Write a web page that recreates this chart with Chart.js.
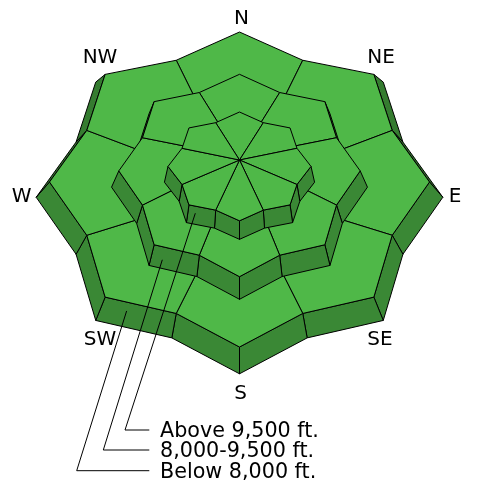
<!DOCTYPE html>
<html><head><meta charset="utf-8">
<script src="https://cdn.jsdelivr.net/npm/chart.js@4.4.1/dist/chart.umd.min.js"></script>
<style>html,body{margin:0;padding:0;background:#fff;}#wrap{width:482px;height:494px;position:relative;}</style>
</head><body><div id="wrap"><canvas id="c"></canvas></div>
<script>
// ---------------- data ----------------
const directions = ['N','NE','E','SE','S','SW','W','NW'];
const elevationBands = ['Below 8,000 ft.','8,000-9,500 ft.','Above 9,500 ft.']; // outer ring -> inner ring
const dangerBelow8000 = [1,1,1,1,1,1,1,1];
const danger8000to9500 = [1,1,1,1,1,1,1,1];
const dangerAbove9500 = [1,1,1,1,1,1,1,1];
const legendLabels = ['Above 9,500 ft.','8,000-9,500 ft.','Below 8,000 ft.'];
const dangerColors = {1:[79,184,72],2:[255,242,0],3:[247,148,30],4:[237,28,36],5:[35,31,32]};

// ---------------- layout (geometry of the rose) ----------------
const W = 482, H = 494;
const GEO = {
  cx: 239.5, notch: 0.87,
  rings: [
    {rx:190,   ry:157.5, bend:7.5, cy:182,   focusY:188, vanishY:-36,  wallScale:1.07},
    {rx:120.7, ry:101.2, bend:4.6, cy:170.9, focusY:157, vanishY:-100, wallScale:1.06},
    {rx:71.5,  ry:54.4,  bend:0,   cy:166.4, focusY:160, vanishY:-150, wallScale:1.05}
  ]
};
const labelCenter = {x:240.5, y:196};
const labelOffsets = [[1,-179],[140.5,-140],[214.5,-1],[139.5,142],[0,195.7],[-140.5,142],[-218.8,-1],[-140.5,-140]];
const legendLayout = {textX:160, rowY:[430,450,470.7], bendX:[125,103.3,76.7], lineEndX:149.3,
  // ring index, wall edge index, position along edge, position down wall
  targets:[[2,9,0.73,0.39],[1,9,0.76,0.6],[0,9,0.66,0.35]]};

const dangers = [dangerBelow8000, danger8000to9500, dangerAbove9500];

function topPoint(ring, j){
  const a = j*22.5*Math.PI/180, rho = (j%2===0)?1:GEO.notch;
  const c = Math.cos(a)*rho;
  return {x: GEO.cx + ring.rx*Math.sin(a)*rho, y: ring.cy - ring.ry*c + ring.bend*c*c};
}
function basePoint(ring, p){
  return {x: GEO.cx + ring.wallScale*(p.x-GEO.cx), y: ring.vanishY + ring.wallScale*(p.y-ring.vanishY)};
}
function area(pts){let s=0;for(let i=0;i<pts.length;i++){const a=pts[i],b=pts[(i+1)%pts.length];s+=a.x*b.y-b.x*a.y;}return s;}
function rgb(c,f){return 'rgb('+c.map(v=>Math.round(v*f)).join(',')+')';}
function worldPt(j){const a=j*22.5*Math.PI/180, rho=(j%2===0)?1:GEO.notch;return {X:Math.sin(a)*rho,Y:Math.cos(a)*rho};}

const datasets = [];
const ringTops = [], ringBases = [];
GEO.rings.forEach((ring, r) => {
  const T = [], B = [];
  for (let j=0;j<16;j++){ const p = topPoint(ring,j); T.push(p); B.push(basePoint(ring,p)); }
  ringTops.push(T); ringBases.push(B);
  const sTop = area(T);
  for (let j=0;j<16;j++){
    const j2=(j+1)%16;
    const quad=[T[j],T[j2],B[j2],B[j]];
    const s=area(quad);
    if (Math.sign(s)===Math.sign(sTop) || Math.abs(s)<0.3) continue;
    const sector = (j%2===0)? j/2 : ((j+1)/2)%8;
    const w1=worldPt(j), w2=worldPt(j2);
    const ex=w2.X-w1.X, ey=w2.Y-w1.Y; const nl=Math.hypot(ex,ey);
    const nY = ex/nl;
    const t = Math.max(0,Math.min(1,(0.75-nY)/0.8));
    const col = dangerColors[dangers[r][sector]];
    datasets.push({data:[...quad, quad[0]].map(p=>({x:p.x,y:p.y})), fill:'shape',
      backgroundColor: rgb(col, 0.56+0.18*t), borderColor:'#000', borderWidth:1});
  }
  const F = {x:GEO.cx, y:ring.focusY};
  for (let k=0;k<8;k++){
    const pts=[F, T[(2*k+15)%16], T[2*k], T[2*k+1], F];
    datasets.push({data:pts.map(p=>({x:p.x,y:p.y})), fill:'shape',
      backgroundColor: rgb(dangerColors[dangers[r][k]],1), borderColor:'#000', borderWidth:1});
  }
});
legendLayout.targets.forEach((tg, i) => {
  const [r,j,u,v] = tg, j2=(j+1)%16;
  const T=ringTops[r], B=ringBases[r];
  const tp={x:T[j].x+(T[j2].x-T[j].x)*u, y:T[j].y+(T[j2].y-T[j].y)*u};
  const bp={x:B[j].x+(B[j2].x-B[j].x)*u, y:B[j].y+(B[j2].y-B[j].y)*u};
  const end={x:tp.x+(bp.x-tp.x)*v, y:tp.y+(bp.y-tp.y)*v};
  datasets.push({data:[end,{x:legendLayout.bendX[i],y:legendLayout.rowY[i]},{x:legendLayout.lineEndX,y:legendLayout.rowY[i]}],
    fill:false, borderColor:'#000', borderWidth:1, backgroundColor:'#000'});
});
datasets.forEach((d,i)=>{d.order=-i; d.pointRadius=0; d.tension=0; d.clip=false; d.borderJoinStyle='miter';});

const textPlugin = {
  id:'roseText',
  afterDatasetsDraw(chart){
    const {ctx, scales:{x, y}} = chart;
    ctx.save();
    ctx.fillStyle='#000';
    ctx.font='20px "DejaVu Sans"';
    ctx.textAlign='center'; ctx.textBaseline='alphabetic';
    directions.forEach((d,k)=>{
      const o=labelOffsets[k];
      ctx.fillText(d, x.getPixelForValue(labelCenter.x+o[0]), y.getPixelForValue(labelCenter.y+o[1]+7.3));
    });
    ctx.font='20.7px "DejaVu Sans"';
    ctx.textAlign='left';
    legendLabels.forEach((t,i)=>{
      ctx.fillText(t, x.getPixelForValue(legendLayout.textX), y.getPixelForValue(legendLayout.rowY[i]+7));
    });
    ctx.restore();
  }
};

new Chart(document.getElementById('c'), {
  type:'line',
  data:{datasets},
  options:{
    responsive:true, maintainAspectRatio:false, animation:false, events:[],
    layout:{padding:0},
    plugins:{legend:{display:false}, tooltip:{enabled:false}},
    scales:{
      x:{type:'linear', min:0, max:W, display:false},
      y:{type:'linear', min:0, max:H, reverse:true, display:false}
    }
  },
  plugins:[textPlugin]
});
</script></body></html>
